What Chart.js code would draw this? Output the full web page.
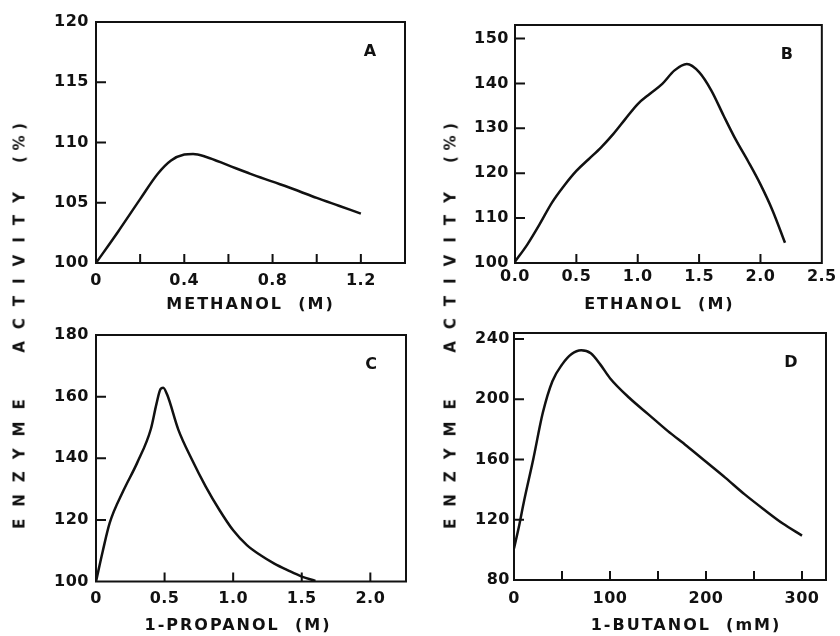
<!DOCTYPE html>
<html><head><meta charset="utf-8">
<script src="https://cdn.jsdelivr.net/npm/chart.js@4.4.1/dist/chart.umd.min.js"></script>
<style>
html,body{margin:0;padding:0;background:#fff;}
body{width:840px;height:636px;position:relative;overflow:hidden;font-family:"DejaVu Sans",sans-serif;color:#111;}
canvas{position:absolute;}
.ylab{position:absolute;font-size:15px;font-weight:bold;letter-spacing:12px;white-space:pre;line-height:1;transform:translate(-50%,-50%) rotate(-90deg);}
.ylab .p{letter-spacing:5.5px;}
.ylab .z{letter-spacing:0;}
</style></head><body>
<canvas id="cA" width="420" height="318" style="left:0;top:0"></canvas>
<canvas id="cB" width="420" height="318" style="left:420px;top:0"></canvas>
<canvas id="cC" width="420" height="318" style="left:0;top:318px"></canvas>
<canvas id="cD" width="420" height="318" style="left:420px;top:318px"></canvas>
<div class="ylab" style="left:20px;top:326px">ENZYME  ACTIVITY <span class="p">(%</span><span class="z">)</span></div>
<div class="ylab" style="left:451px;top:326px">ENZYME  ACTIVITY <span class="p">(%</span><span class="z">)</span></div>
<script>
// ---- data ----
const methanolM = [0, 0.1, 0.2, 0.28, 0.34, 0.4, 0.44, 0.5, 0.6, 0.7, 0.8, 0.9, 1.0, 1.1, 1.2];
const activityA = [100, 102.6, 105.3, 107.4, 108.5, 109.0, 109.05, 108.8, 108.1, 107.4, 106.75, 106.1, 105.4, 104.75, 104.1];

const ethanolM = [0, 0.1, 0.2, 0.3, 0.4, 0.5, 0.6, 0.7, 0.8, 0.9, 1.0, 1.1, 1.2, 1.3, 1.4, 1.5, 1.6, 1.7, 1.8, 1.9, 2.0, 2.1, 2.2];
const activityB = [100.3, 104.1, 108.6, 113.4, 117.2, 120.5, 123.1, 125.7, 128.7, 132.1, 135.4, 137.7, 139.9, 142.9, 144.3, 142.5, 138.4, 132.8, 127.4, 122.6, 117.5, 111.6, 104.5];

const propanolM = [0, 0.05, 0.1, 0.2, 0.3, 0.4, 0.44, 0.47, 0.49, 0.52, 0.6, 0.7, 0.8, 0.9, 1.0, 1.1, 1.2, 1.3, 1.4, 1.5, 1.6];
const activityC = [100, 110, 119, 129.5, 138.5, 149.5, 157.5, 162.4, 162.9, 160.5, 149.3, 139.5, 130.8, 123.2, 116.6, 111.8, 108.5, 105.8, 103.6, 101.6, 100.2];

const butanolmM = [0, 5, 10, 20, 30, 40, 50, 60, 70, 80, 90, 100, 120, 140, 160, 180, 200, 220, 240, 260, 280, 300];
const activityD = [101, 115, 131, 160, 191, 212, 223, 230, 232.5, 230.5, 223, 214, 201, 190, 179, 169, 158.5, 148, 137, 127, 117.5, 109.5];

const xTitles = ['METHANOL  (M)', 'ETHANOL  (M)', '1-PROPANOL  (M)', '1-BUTANOL  (mM)'];
const panelLetters = ['A', 'B', 'C', 'D'];

// ---- styling ----
const INK = '#111';
const FONT = '"DejaVu Sans", sans-serif';
const TICKFONT = {family: FONT, size: 16, weight: 'bold'};

const frame = {
  id: 'frame',
  beforeDraw(chart, args, opts) {
    chart.ctx.letterSpacing = '0.5px';
    const sx = chart.scales.x;
    if (!sx._wrappedTitle) {
      const orig = sx.drawTitle;
      sx.drawTitle = function () {
        const c = this.ctx;
        c.save();
        c.letterSpacing = '2px';
        c.translate(opts.dx || 0, 0);
        orig.call(this);
        c.restore();
      };
      sx._wrappedTitle = true;
    }
  },
  afterDraw(chart, args, opts) {
    const {ctx, chartArea: a, scales: {x, y}} = chart;
    ctx.save();
    ctx.letterSpacing = '0px';
    ctx.strokeStyle = INK;
    ctx.lineWidth = 2;
    ctx.strokeRect(a.left, a.top, a.right - a.left, a.bottom - a.top);
    ctx.beginPath();
    x.ticks.forEach(t => {
      const p = x.getPixelForValue(t.value);
      if (p > a.left + 2 && p < a.right - 2) { ctx.moveTo(p, a.bottom); ctx.lineTo(p, a.bottom - 9); }
    });
    y.ticks.forEach(t => {
      const p = y.getPixelForValue(t.value);
      if (p > a.top + 2 && p < a.bottom - 2) { ctx.moveTo(a.left, p); ctx.lineTo(a.left + 10, p); }
    });
    ctx.stroke();
    ctx.font = 'bold 16px ' + FONT;
    ctx.fillStyle = INK;
    ctx.textAlign = 'center';
    ctx.textBaseline = 'middle';
    ctx.fillText(opts.letter, a.right - 35, a.top + 30);
    ctx.restore();
  }
};

function panel(id, xs, ys, c) {
  return new Chart(document.getElementById(id), {
    type: 'line',
    data: {
      datasets: [{
        data: xs.map((v, i) => ({x: v, y: ys[i]})),
        borderColor: INK,
        borderWidth: 2.5,
        pointRadius: 0,
        fill: false,
        cubicInterpolationMode: 'monotone'
      }]
    },
    options: {
      responsive: false,
      animation: false,
      events: [],
      layout: {padding: {left: 0, top: c.top, right: c.right, bottom: 0}},
      plugins: {
        legend: {display: false},
        tooltip: {enabled: false},
        frame: {letter: c.letter, dx: c.dx}
      },
      scales: {
        x: {
          type: 'linear', min: c.xmin, max: c.xmax,
          border: {display: false},
          grid: {display: false, drawTicks: false},
          ticks: {
            stepSize: c.xstep, includeBounds: false, autoSkip: false, maxRotation: 0,
            padding: c.xpad, color: INK, font: TICKFONT,
            callback: c.xfmt
          },
          title: {display: true, text: c.title, color: INK, font: TICKFONT, padding: {top: 0, bottom: c.tpad}},
          afterFit: s => { s.height = c.xh; }
        },
        y: {
          type: 'linear', min: c.ymin, max: c.ymax,
          border: {display: false},
          grid: {display: false, drawTicks: false},
          ticks: {
            stepSize: c.ystep, includeBounds: false, autoSkip: false,
            padding: c.ypad, color: INK, font: TICKFONT,
            callback: v => String(v)
          },
          afterFit: s => { s.width = c.yw; }
        }
      }
    },
    plugins: [frame]
  });
}

const fmtA = v => { const k = Math.round(v * 10); return k % 4 === 0 ? (k === 0 ? '0' : v.toFixed(1)) : ''; };
const fmtB = v => v.toFixed(1);
const fmtC = v => v === 0 ? '0' : v.toFixed(1);
const fmtD = v => Math.round(v) % 100 === 0 ? String(Math.round(v)) : '';

panel('cA', methanolM, activityA, {top: 22, right: 15, yw: 96, xh: 55, xmin: 0, xmax: 1.4, xstep: 0.2, xfmt: fmtA,
  ymin: 100, ymax: 120, ystep: 5, xpad: 8, ypad: 7, title: xTitles[0], tpad: 4, dx: 0, letter: panelLetters[0]});
panel('cB', ethanolM, activityB, {top: 25, right: 12, yw: 95, xh: 55, xmin: 0, xmax: 2.5, xstep: 0.5, xfmt: fmtB,
  ymin: 100, ymax: 153, ystep: 10, xpad: 4, ypad: 6, title: xTitles[1], tpad: 4, dx: -9, letter: panelLetters[1]});
panel('cC', propanolM, activityC, {top: 17, right: 14, yw: 96, xh: 54.5, xmin: 0, xmax: 2.26, xstep: 0.5, xfmt: fmtC,
  ymin: 100, ymax: 180, ystep: 20, xpad: 7.5, ypad: 7, title: xTitles[2], tpad: 1, dx: -13, letter: panelLetters[2]});
panel('cD', butanolmM, activityD, {top: 15, right: 14, yw: 94, xh: 56, xmin: 0, xmax: 325, xstep: 50, xfmt: fmtD,
  ymin: 80, ymax: 244, ystep: 40, xpad: 9, ypad: 4, title: xTitles[3], tpad: 1, dx: 16, letter: panelLetters[3]});
</script>
</body></html>
